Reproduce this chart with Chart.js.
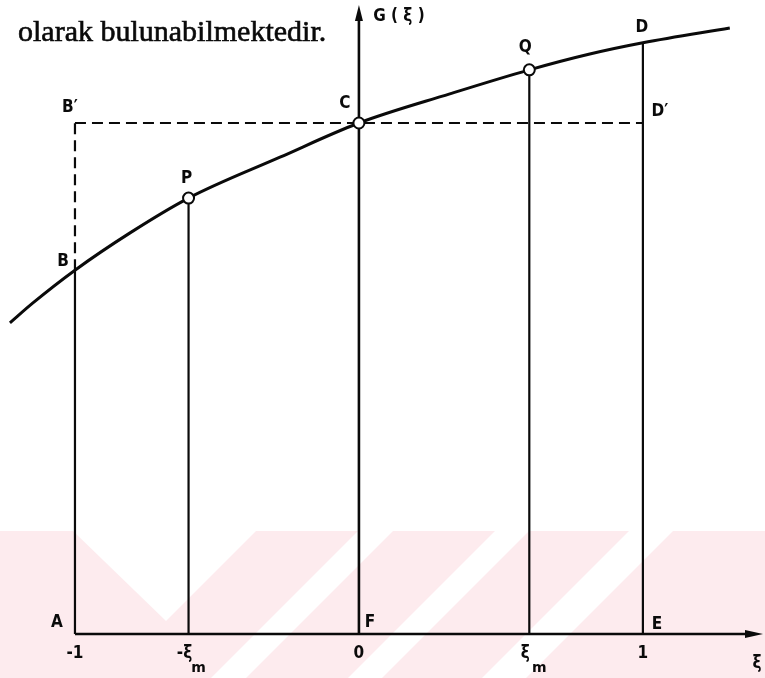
<!DOCTYPE html>
<html>
<head>
<meta charset="utf-8">
<script src="https://cdn.jsdelivr.net/npm/chart.js@4/dist/chart.umd.min.js"></script>
<style>
    html, body { margin: 0; padding: 0; background: #fff; }
    #box { position: relative; width: 765px; height: 678px; }
</style>
</head>
<body>
<div id="box"><canvas id="output"></canvas></div>
<script>
// G(ξ) curve
const curveXi = [-1.229, -1.148, -1.0, -0.806, -0.6, -0.278, 0.0, 0.320, 0.6, 0.813, 1.0, 1.306];
const curveG = [0.609, 0.648, 0.712, 0.785, 0.853, 0.933, 1.0, 1.057, 1.104, 1.135, 1.157, 1.186];

// ordinates dropped from the curve to the ξ axis (A-B, P, Q, E-D)
const ordinateXi = [-1.0, -0.6, 0.6, 1.0];
const ordinateG = [0.712, 0.853, 1.104, 1.157];

// marked points P, C, Q
const markNames = ["P", "C", "Q"];
const markXi = [-0.6, 0.0, 0.6];
const markG = [0.853, 1.0, 1.104];

// level of C carried across: B' .. D'
const levelG = 1.0;
const levelXi = [-1.0, 1.0];
const levelBG = 0.712;

// axes
const axisXiEnd = 1.423;
const axisGEnd = 1.231;

// ξ axis tick labels
const tickXi = [-1.0, -0.6, 0.0, 0.6, 1.0];
const tickText = ["-1", "-ξ", "0", "ξ", "1"];
const tickSub = ["", "m", "", "m", ""];

const lineColor = "#0a0a0a";

function seg(x0, y0, x1, y1, width, dash) {
    return {
        data: [{ x: x0, y: y0 }, { x: x1, y: y1 }],
        showLine: true,
        borderColor: lineColor,
        borderWidth: width,
        borderDash: dash || [],
        pointRadius: 0,
        order: 3
    };
}

const datasets = [];
datasets.push({
    data: markXi.map((x, i) => ({ x: x, y: markG[i] })),
    showLine: false,
    pointRadius: 5.5,
    pointBorderWidth: 2,
    pointBorderColor: lineColor,
    pointBackgroundColor: "#fff",
    order: 0
});
datasets.push({
    data: curveXi.map((x, i) => ({ x: x, y: curveG[i] })),
    showLine: true,
    borderColor: lineColor,
    borderWidth: 3,
    cubicInterpolationMode: "monotone",
    pointRadius: 0,
    order: 1
});
ordinateXi.forEach((x, i) => datasets.push(seg(x, 0, x, ordinateG[i], 2.2)));
datasets.push(seg(levelXi[0], levelG, levelXi[1], levelG, 2.2, [11, 6]));
datasets.push(seg(levelXi[0], levelBG, levelXi[0], levelG, 2.2, [11, 6]));
datasets.push(seg(ordinateXi[0], 0, axisXiEnd - 0.04, 0, 2.6));
datasets.push(seg(0, 0, 0, axisGEnd - 0.03, 2.6));

// pale striped band along the bottom of the page
const stamp = {
    id: "stamp",
    beforeDraw(chart) {
        const ctx = chart.ctx;
        const top = 531, bottom = 678, h = bottom - top;
        ctx.save();
        ctx.fillStyle = "#fdebee";
        ctx.fillRect(0, top, chart.width, h);
        ctx.fillStyle = "#fff";
        ctx.beginPath();
        ctx.moveTo(73, top); ctx.lineTo(256, top); ctx.lineTo(166, 621);
        ctx.closePath();
        ctx.fill();
        [[358, 393], [495, 529], [629, 673]].forEach(g => {
            ctx.beginPath();
            ctx.moveTo(g[0], top); ctx.lineTo(g[1], top);
            ctx.lineTo(g[1] - h, bottom); ctx.lineTo(g[0] - h, bottom);
            ctx.closePath();
            ctx.fill();
        });
        ctx.restore();
    }
};

// lettering, arrow heads and the text line above
const letters = {
    id: "letters",
    afterDraw(chart) {
        const ctx = chart.ctx;
        const sx = chart.scales.x, sy = chart.scales.y;
        const px = v => sx.getPixelForValue(v);
        const py = v => sy.getPixelForValue(v);
        ctx.save();
        ctx.fillStyle = lineColor;
        ctx.strokeStyle = lineColor;

        // arrow heads
        const ax = px(0), ay = py(axisGEnd);
        ctx.beginPath();
        ctx.moveTo(ax, ay); ctx.lineTo(ax - 4, ay + 16); ctx.lineTo(ax + 4, ay + 16);
        ctx.closePath(); ctx.fill();
        const bx = px(axisXiEnd), by = py(0);
        ctx.beginPath();
        ctx.moveTo(bx, by); ctx.lineTo(bx - 18, by - 4); ctx.lineTo(bx - 18, by + 4);
        ctx.closePath(); ctx.fill();

        ctx.font = "30px 'Liberation Serif', serif";
        ctx.textAlign = "left";
        ctx.textBaseline = "alphabetic";
        ctx.lineWidth = 0.6;
        ctx.fillText("olarak bulunabilmektedir.", 18, 41);
        ctx.strokeText("olarak bulunabilmektedir.", 18, 41);

        ctx.font = "bold 17px 'DejaVu Sans Condensed', 'DejaVu Sans', sans-serif";
        ctx.textAlign = "center";
        ctx.textBaseline = "middle";
        const put = (t, x, y) => ctx.fillText(t, x, y);

        put("G ( ξ )", ax + 40, 17);
        markNames.forEach((n, i) => {
            const off = { P: [-2, -20], C: [-14, -19], Q: [-4, -22] }[n];
            put(n, px(markXi[i]) + off[0], py(markG[i]) + off[1]);
        });
        put("D", px(1) - 1, py(ordinateG[3]) - 15);
        put("B", px(-1) - 12, py(levelBG) - 9);
        put("B′", px(-1) - 5, py(levelG) - 15);
        put("D′", px(1) + 17, py(levelG) - 11);
        put("A", px(-1) - 18, py(0) - 11);
        put("F", px(0) + 11, py(0) - 11);
        put("E", px(1) + 14, py(0) - 9);

        tickXi.forEach((v, i) => {
            const x = px(v);
            put(tickText[i], x - (tickSub[i] ? 4 : 0), py(0) + 20);
            if (tickSub[i]) {
                ctx.font = "bold 14px 'DejaVu Sans', sans-serif";
                put(tickSub[i], x + 10, py(0) + 34);
                ctx.font = "bold 17px 'DejaVu Sans Condensed', 'DejaVu Sans', sans-serif";
            }
        });
        put("ξ", bx - 6, py(0) + 30);
        ctx.restore();
    }
};

const chart = new Chart(document.getElementById("output"), {
    type: "scatter",
    data: { datasets: datasets },
    options: {
        responsive: true,
        maintainAspectRatio: false,
        animation: false,
        layout: { padding: 0, autoPadding: false },
        plugins: { legend: { display: false }, tooltip: { enabled: false } },
        elements: { line: { tension: 0 } },
        scales: {
            x: { type: "linear", display: false, min: -1.264, max: 1.430 },
            y: { type: "linear", display: false, min: -0.0861, max: 1.2407 }
        }
    },
    plugins: [stamp, letters]
});
</script>
</body>
</html>
